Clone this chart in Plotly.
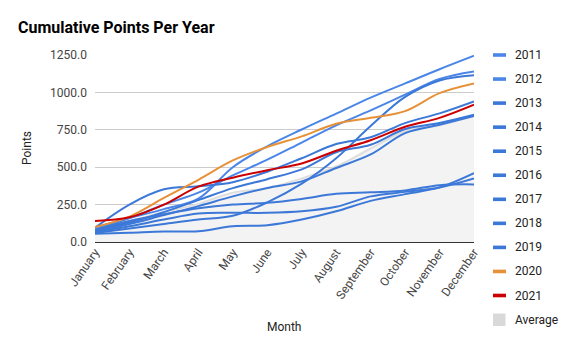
import plotly.graph_objects as go

months = ["January", "February", "March", "April", "May", "June", "July",
          "August", "September", "October", "November", "December"]

y2011 = [95, 160, 220, 290, 500, 640, 752, 858, 965, 1060, 1155, 1245]
y2012 = [80, 160, 250, 330, 445, 550, 665, 780, 880, 985, 1090, 1140]
y2013 = [60, 90, 120, 150, 175, 265, 390, 560, 775, 970, 1080, 1115]
y2014 = [95, 250, 352, 372, 400, 470, 560, 655, 700, 795, 860, 940]
y2015 = [80, 130, 200, 280, 360, 420, 485, 600, 650, 755, 795, 850]
y2016 = [70, 120, 180, 240, 305, 361, 405, 495, 585, 728, 784, 842]
y2017 = [55, 62, 70, 72, 105, 112, 150, 205, 275, 320, 365, 460]
y2018 = [65, 105, 150, 190, 195, 195, 205, 235, 305, 335, 365, 425]
y2019 = [80, 140, 185, 225, 250, 262, 288, 322, 332, 345, 380, 385]
y2020 = [100, 170, 295, 416, 545, 635, 706, 790, 830, 875, 995, 1060]
y2021 = [140, 165, 250, 370, 430, 480, 525, 610, 680, 770, 830, 918]
average = [85, 140, 200, 255, 330, 360, 425, 505, 625, 740, 780, 842]

series_names = ["2011", "2012", "2013", "2014", "2015", "2016", "2017",
                "2018", "2019", "2020", "2021"]
series_values = [y2011, y2012, y2013, y2014, y2015, y2016, y2017,
                 y2018, y2019, y2020, y2021]
series_colors = ["#4a86e8", "#4a86e8", "#3c78d8", "#3c78d8", "#3c78d8",
                 "#3c78d8", "#3c78d8", "#3c78d8", "#3c78d8", "#e69138", "#cc0000"]
y_ticks = [0, 250, 500, 750, 1000, 1250]

FONT = "Roboto"
fig = go.Figure()

fig.add_trace(go.Scatter(
    x=months, y=average, mode="lines", name="Average",
    line=dict(color="#dedede", width=2, shape="spline", smoothing=1),
    fill="tozeroy", fillcolor="#f3f3f3", showlegend=False, hoverinfo="skip"))

for name, vals, col in zip(series_names, series_values, series_colors):
    fig.add_trace(go.Scatter(
        x=months, y=vals, mode="lines", name=name,
        line=dict(color=col, width=2, shape="spline", smoothing=1),
        showlegend=False))

W, H = 571, 353
L, R, T, B = 95, 97, 55, 111
pw, ph = W - L - R, H - T - B

def px2x(px):
    return (px - L) / pw

def py2y(py):
    return (H - B - py) / ph

shapes = []
annotations = []
legend_names = series_names + ["Average"]
legend_colors = series_colors + ["#d9d9d9"]
for i, (nm, col) in enumerate(zip(legend_names, legend_colors)):
    cy = 55 + 24.05 * i
    if nm == "Average":
        shapes.append(dict(type="rect", xref="paper", yref="paper",
                           x0=px2x(493), x1=px2x(505.5), y0=py2y(cy + 6.5), y1=py2y(cy - 6),
                           fillcolor=col, line=dict(width=0)))
    else:
        shapes.append(dict(type="rect", xref="paper", yref="paper",
                           x0=px2x(493), x1=px2x(506), y0=py2y(cy + 1.8), y1=py2y(cy - 1.8),
                           fillcolor=col, line=dict(width=0)))
    annotations.append(dict(xref="paper", yref="paper", x=px2x(512.5), y=py2y(cy),
                            text=nm, showarrow=False, xanchor="left", yanchor="middle",
                            font=dict(family=FONT, size=12, color="#222222")))

annotations.append(dict(xref="paper", yref="paper", x=px2x(27), y=py2y(148),
                        text="Points", textangle=-90, showarrow=False,
                        xanchor="center", yanchor="middle",
                        font=dict(family=FONT, size=12, color="#222222")))
annotations.append(dict(xref="paper", yref="paper", x=px2x(284), y=py2y(327),
                        text="Month", showarrow=False,
                        xanchor="center", yanchor="middle",
                        font=dict(family=FONT, size=12, color="#222222")))

fig.update_layout(
    width=W, height=H, autosize=False,
    margin=dict(l=L, r=R, t=T, b=B, pad=0),
    paper_bgcolor="white", plot_bgcolor="white",
    title=dict(text="<b>Cumulative Points Per Year</b>", x=18 / W, xanchor="left",
               xref="container", y=1 - 27 / H, yanchor="middle",
               font=dict(family=FONT, size=16, color="#000000")),
    shapes=shapes, annotations=annotations,
    showlegend=False,
)
fig.update_xaxes(type="category", range=[0, 11], showgrid=False, showline=False,
                 zeroline=False, ticks="", tickangle=-55,
                 tickfont=dict(family=FONT, size=12, color="#444444"))
fig.update_yaxes(range=[0, 1250], tickvals=y_ticks, tickformat=".1f",
                 showgrid=True, gridcolor="#cccccc", gridwidth=1,
                 zeroline=True, zerolinecolor="#333333", zerolinewidth=2,
                 showline=False, ticks="", ticklabelstandoff=7,
                 tickfont=dict(family=FONT, size=12, color="#444444"))

fig.write_html("out.html")
